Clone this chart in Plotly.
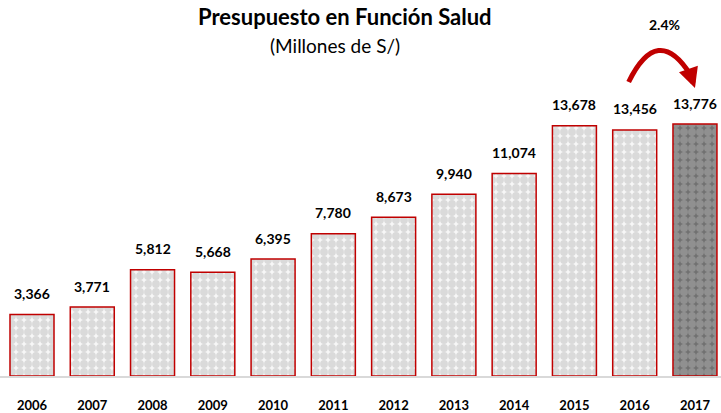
import plotly.graph_objects as go

years = ["2006", "2007", "2008", "2009", "2010", "2011", "2012", "2013", "2014", "2015", "2016", "2017"]
values = [3366, 3771, 5812, 5668, 6395, 7780, 8673, 9940, 11074, 13678, 13456, 13776]
labels = ["3,366", "3,771", "5,812", "5,668", "6,395", "7,780", "8,673", "9,940", "11,074", "13,678", "13,456", "13,776"]
growth_label = "2.4%"

xs = list(range(len(years)))
FONT = "Lato, 'Noto Sans', sans-serif"

n = len(years)
groups = [
    (xs[:n - 1], values[:n - 1], "#bebebe", "#f7f7f7"),
    (xs[n - 1:], values[n - 1:], "#b0b0b0", "#717171"),
]

fig = go.Figure()
for gx, gy, fgc, bgc in groups:
    fig.add_trace(go.Bar(
        x=gx, y=gy, width=0.73,
        marker=dict(
            color=fgc,
            line=dict(color="#c00000", width=1.5),
            pattern=dict(shape=".", fgcolor=fgc, bgcolor=bgc, size=8, solidity=0.75),
        ),
        hoverinfo="skip",
    ))

for x, v, t in zip(xs, values, labels):
    fig.add_annotation(x=x, y=v, text=f"<b>{t}</b>", showarrow=False, yanchor="middle", yshift=21,
                       font=dict(family=FONT, size=14, color="#000"))

# curved arrow between last two bars
i0, i1 = n - 2, n - 1
y0 = 16075
yc = 19300
y1 = 16500
x0 = i0 - 0.1
x1 = i1 - 0.08
xc = (x0 + x1) / 2 - 0.03
fig.add_shape(type="path", path=f"M {x0},{y0} Q {xc},{yc} {x1},{y1}",
              xref="x", yref="y", line=dict(color="#c00000", width=5))
fig.add_annotation(x=i1 + 0.0, y=15750, ax=x1 - 0.02, ay=y1 + 200, axref="x", ayref="y",
                   xref="x", yref="y", text="", showarrow=True, arrowhead=2, arrowsize=0.8,
                   arrowwidth=5, arrowcolor="#c00000")
fig.add_annotation(x=(i0 + i1) / 2, y=1, yref="paper", yshift=-24, yanchor="middle",
                   text=f"<b>{growth_label}</b>",
                   showarrow=False, font=dict(family=FONT, size=14, color="#000"))

fig.add_annotation(x=0.478, y=1, xref="paper", yref="paper", yshift=-16, yanchor="middle",
                   text="<b>Presupuesto en Función Salud</b>", showarrow=False,
                   font=dict(family=FONT, size=22, color="#000"))
fig.add_annotation(x=0.465, y=1, xref="paper", yref="paper", yshift=-45, yanchor="middle",
                   text="(Millones de S/)", showarrow=False,
                   font=dict(family=FONT, size=19, color="#000"))

fig.update_layout(
    width=721, height=413,
    margin=dict(l=0, r=0, t=0, b=37),
    paper_bgcolor="white", plot_bgcolor="white",
    barmode="overlay", showlegend=False,
    xaxis=dict(range=[-0.531, 11.432], tickvals=xs, ticktext=[f"<b>{y}</b>" for y in years],
               showline=True, linecolor="#d9d9d9", linewidth=2, showgrid=False, zeroline=False,
               ticks="", ticklabelstandoff=16, tickfont=dict(family=FONT, size=13, color="#000")),
    yaxis=dict(range=[0, 20557], visible=False, showgrid=False),
)

fig.write_html("out.html", config={"displayModeBar": False},
               post_script="document.body.style.margin='0';document.body.style.overflow='hidden';")
